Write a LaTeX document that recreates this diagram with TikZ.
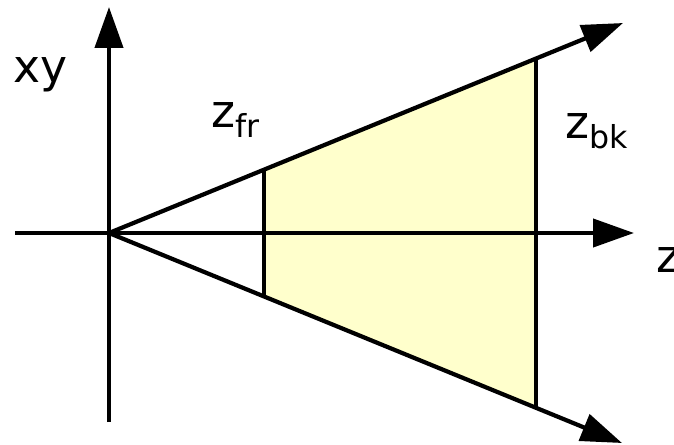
\documentclass[tikz,border=0pt]{standalone}
\usepackage{fontspec}
\setmainfont{DejaVu Sans}
\usetikzlibrary{arrows.meta}
\definecolor{frustumfill}{HTML}{FFFFCC}
\tikzset{
  axisline/.style={line width=2.4pt, -{Triangle[length=0.82cm, width=0.56cm]}},
  planeline/.style={line width=2.4pt},
  planefill/.style={fill=frustumfill, draw=none},
  lbl/.style={anchor=base west, inner sep=0pt, font=\fontsize{26}{30}\selectfont},
}
\newcommand{\sublbl}[1]{\raisebox{-5.7pt}{\fontsize{18}{20}\selectfont #1}}

\begin{document}
\begin{tikzpicture}[x=0.02cm, y=-0.02cm]
  \useasboundingbox (0,0) rectangle (674,444);
  % axes and rays
  \coordinate (origin) at (109,233);
  \coordinate (zstart) at (15,233);
  \coordinate (ztip) at (634,233);
  \coordinate (ybot) at (109,422);
  \coordinate (ytip) at (109,7);
  \coordinate (uptip) at (623,23);
  \coordinate (lowtip) at (622,443);
  % near and far planes
  \coordinate (frtop) at (264,169.7);
  \coordinate (frbot) at (264,296.3);
  \coordinate (bktop) at (536,58.5);
  \coordinate (bkbot) at (536,407.5);
  \fill[planefill] (frtop) -- (bktop) -- (bkbot) -- (frbot) -- cycle;
  \draw[planeline] (frtop) -- (frbot);
  \draw[planeline] (bktop) -- (bkbot);
  \draw[axisline] (zstart) -- (ztip);
  \draw[axisline] (ybot) -- (ytip);
  \draw[axisline] (origin) -- (uptip);
  \draw[axisline] (origin) -- (lowtip);
  % labels
  \node[lbl] (xylabel) at (13,82) {xy};
  \node[lbl] (zfrlabel) at (211,127) {z\sublbl{fr}};
  \node[lbl] (zbklabel) at (565,138) {z\sublbl{bk}};
  \node[lbl] (zlabel) at (656,272) {z};
\end{tikzpicture}
\end{document}
